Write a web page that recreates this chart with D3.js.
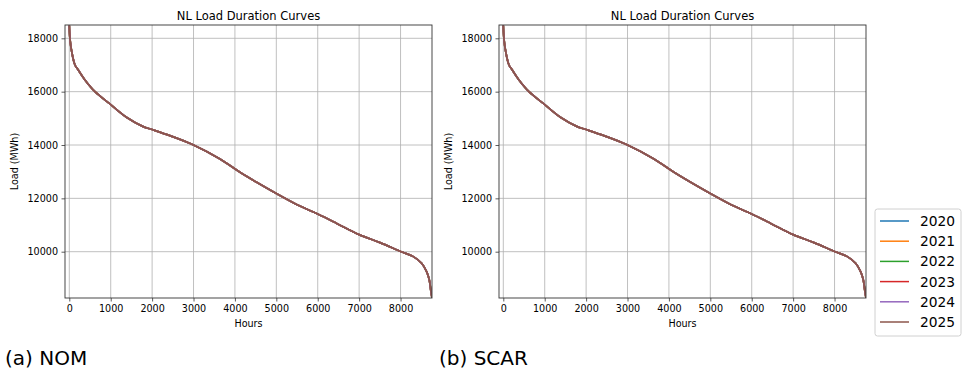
<!DOCTYPE html>
<html>
<head>
<meta charset="utf-8">
<script src="https://cdn.jsdelivr.net/npm/d3@7"></script>
<style>
  body { margin: 0; background: #fff; }
  text { font-family: "DejaVu Sans", sans-serif; fill: #000; }
</style>
</head>
<body>
<div id="chart"></div>
<script>
// data (all six years overlap almost exactly)
var years = ["2020", "2021", "2022", "2023", "2024", "2025"];
var colors = ["#1f77b4", "#ff7f0e", "#2ca02c", "#d62728", "#9467bd", "#8c564b"];
var hours = [0, 15, 58, 137, 217, 378, 620, 980, 1380, 1785, 2000, 2430, 3000, 3640,
             4124, 4525, 5000, 5490, 6000, 6460, 7000, 7505, 8000, 8310, 8510, 8630,
             8695, 8735, 8760];
var loadNOM = [18480, 18000, 17500, 17000, 16810, 16440, 16000, 15540, 15040, 14690, 14580,
               14350, 14000, 13475, 12975, 12600, 12180, 11770, 11410, 11060, 10640, 10340,
               10010, 9815, 9565, 9250, 8940, 8500, 8270];
var loadSCAR = [18480, 18000, 17500, 17000, 16810, 16440, 16000, 15540, 15040, 14690, 14580,
                14350, 14000, 13475, 12975, 12600, 12180, 11770, 11410, 11060, 10640, 10340,
                10010, 9815, 9565, 9250, 8940, 8500, 8270];
var xTicks = [0, 1000, 2000, 3000, 4000, 5000, 6000, 7000, 8000];
var yTicks = [10000, 12000, 14000, 16000, 18000];
var captions = ["(a) NOM", "(b) SCAR"];

var W = 966, H = 373;
var svg = d3.select("#chart").append("svg")
  .attr("width", W).attr("height", H);

var top_ = 25, bottom = 298;

function panel(left, right, load, caption, idx) {
  var x = d3.scaleLinear().domain([-104, 8760]).range([left, right]);
  var y = d3.scaleLinear().domain([8264, 18499]).range([bottom, top_]);

  var g = svg.append("g");

  // grid
  g.selectAll(".gx").data(xTicks).enter().append("line")
    .attr("x1", function(d) { return x(d); }).attr("x2", function(d) { return x(d); })
    .attr("y1", top_).attr("y2", bottom)
    .attr("stroke", "#b0b0b0").attr("stroke-width", 0.8);
  g.selectAll(".gy").data(yTicks).enter().append("line")
    .attr("x1", left).attr("x2", right)
    .attr("y1", function(d) { return y(d); }).attr("y2", function(d) { return y(d); })
    .attr("stroke", "#b0b0b0").attr("stroke-width", 0.8);

  // lines
  var clipId = "clip" + idx;
  svg.append("clipPath").attr("id", clipId).append("rect")
    .attr("x", left).attr("y", top_).attr("width", right - left).attr("height", bottom - top_);
  var line = d3.line()
    .x(function(d) { return x(d[0]); })
    .y(function(d) { return y(d[1]); })
    .curve(d3.curveCatmullRom.alpha(0.5));
  years.forEach(function(yr, i) {
    g.append("path")
      .datum(hours.map(function(h, j) { return [h, load[j]]; }))
      .attr("clip-path", "url(#" + clipId + ")")
      .attr("fill", "none")
      .attr("stroke", colors[i])
      .attr("stroke-width", 1.7)
      .attr("d", line);
  });

  // axes
  var xa = g.append("g").attr("transform", "translate(0," + bottom + ")")
    .call(d3.axisBottom(x).tickValues(xTicks).tickSize(3.5).tickPadding(3.5).tickFormat(d3.format("d")));
  var ya = g.append("g").attr("transform", "translate(" + left + ",0)")
    .call(d3.axisLeft(y).tickValues(yTicks).tickSize(3.5).tickPadding(3.5).tickFormat(d3.format("d")));
  [xa, ya].forEach(function(a) {
    a.select(".domain").remove();
    a.selectAll("line").attr("stroke", "#333").attr("stroke-width", 0.8);
    a.selectAll("text").style("font-family", "DejaVu Sans").style("font-size", "9.6px").attr("fill", "#000");
  });

  // frame
  g.append("rect").attr("x", left).attr("y", top_)
    .attr("width", right - left).attr("height", bottom - top_)
    .attr("fill", "none").attr("stroke", "#333").attr("stroke-width", 0.9);

  g.append("text").attr("x", (left + right) / 2).attr("y", 20)
    .attr("text-anchor", "middle").style("font-size", "11.5px")
    .text("NL Load Duration Curves");
  g.append("text").attr("x", (left + right) / 2).attr("y", 327)
    .attr("text-anchor", "middle").style("font-size", "9.6px")
    .text("Hours");
  g.append("text")
    .attr("transform", "translate(" + (left - 47) + "," + ((top_ + bottom) / 2) + ") rotate(-90)")
    .attr("text-anchor", "middle").style("font-size", "9.6px")
    .text("Load (MWh)");

  svg.append("text").attr("x", left - 60).attr("y", 365)
    .style("font-size", "20px").text(caption);
}

panel(65, 432, loadNOM, captions[0], 0);
panel(499, 866, loadSCAR, captions[1], 1);

// legend
var lg = svg.append("g");
lg.append("rect").attr("x", 875).attr("y", 209).attr("width", 86).attr("height", 127)
  .attr("rx", 2.5).attr("fill", "#fff").attr("stroke", "#d0d0d0").attr("stroke-width", 1);
years.forEach(function(yr, i) {
  var yy = 221 + i * 20.2;
  lg.append("line").attr("x1", 880).attr("x2", 909).attr("y1", yy).attr("y2", yy)
    .attr("stroke", colors[i]).attr("stroke-width", 1.5);
  lg.append("text").attr("x", 920).attr("y", yy + 5).style("font-size", "13.8px").text(yr);
});
</script>
</body>
</html>
